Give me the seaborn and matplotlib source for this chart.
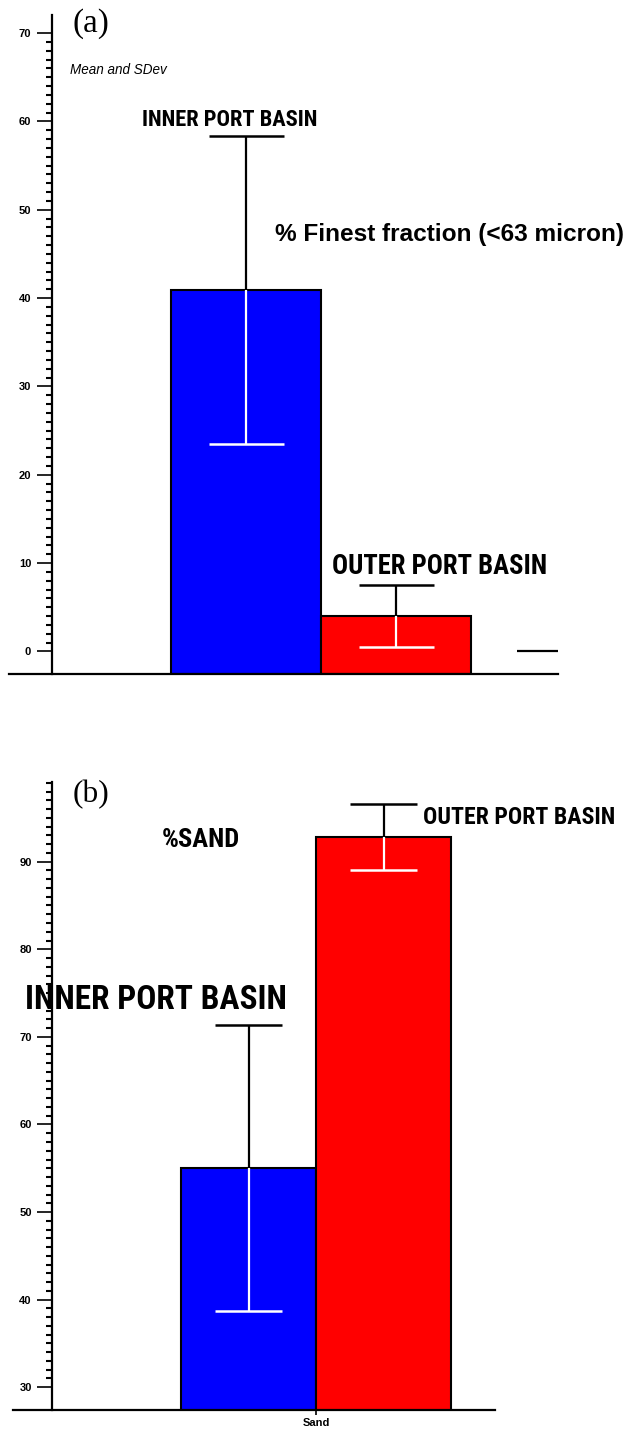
import os
import numpy as np
import pandas as pd
import matplotlib
matplotlib.use("Agg")
import matplotlib.pyplot as plt
from matplotlib import font_manager as fm
import seaborn as sns
from matplotlib.ticker import FixedLocator

sns.set_theme(style="white")
plt.rcParams['font.family'] = ['Liberation Sans', 'DejaVu Sans']
plt.rcParams['text.color'] = 'black'
plt.rcParams['xtick.color'] = 'black'
plt.rcParams['ytick.color'] = 'black'

# ---- data ----
basins = ["INNER PORT BASIN", "OUTER PORT BASIN"]
bar_colors = ["#0000ff", "#ff0000"]

# % finest fraction (<63 micron): mean and standard deviation per basin
fines_mean = [40.9, 4.05]
fines_sd = [17.45, 3.5]
fines_blank = 0.0  # empty slot drawn at the right end of panel (a)

# % sand: mean and standard deviation per basin
sand_mean = [55.0, 92.8]
sand_sd = [16.3, 3.8]
sand_category = ["Sand"]

fines_major = list(range(0, 71, 10))
fines_minor = list(range(0, 71, 1))
sand_major = list(range(30, 91, 10))
sand_minor = list(range(30, 100, 1))

W, H = 628, 1433
fig = plt.figure(figsize=(W / 100, H / 100), dpi=100)
renderer = fig.canvas.get_renderer()


def box(l, t, r, b):
    return [l / W, 1 - b / H, (r - l) / W, (b - t) / H]


def fxy(x, y):
    return x / W, 1 - y / H


def narrow_bold_font():
    """Pick a bold condensed sans face if one is installed."""
    prefs = ['liberation sans narrow', 'arial narrow', 'roboto condensed',
             'dejavu sans', 'open sans', 'noto sans', 'roboto']
    best, best_key = None, None
    for f in fm.fontManager.ttflist:
        base = os.path.basename(f.fname).lower()
        name = f.name.lower()
        is_narrow = ('narrow' in name or 'condensed' in name or 'narrow' in base
                     or 'condensed' in base
                     or f.stretch in ('condensed', 'semi-condensed', 'extra-condensed'))
        if not is_narrow or f.style != 'normal' or 'italic' in base or 'oblique' in base:
            continue
        w = f.weight if isinstance(f.weight, int) else fm.weight_dict.get(f.weight, 400)
        if w < 600 and 'bold' not in base:
            continue
        if 'extrabold' in base or 'black' in base or 'semibold' in base:
            continue
        rank = next((i for i, p in enumerate(prefs) if p in name or p.replace(' ', '') in base), len(prefs))
        key = (rank, abs(w - 700))
        if best_key is None or key < best_key:
            best, best_key = f, key
    if best is None:
        return fm.FontProperties(family=['Liberation Sans', 'DejaVu Sans'], weight='bold')
    return fm.FontProperties(fname=best.fname)


NARROW_FP = narrow_bold_font()
SERIF = ['Liberation Serif', 'DejaVu Serif']


def label(x, y, s, width, fp=None, **kw):
    """Place text with its left edge at x, centred on y, scaled to a given width."""
    if fp is not None:
        t = fig.text(*fxy(x, y), s, fontproperties=fp.copy(), va="center",
                     ha="left", color="black", **kw)
    else:
        t = fig.text(*fxy(x, y), s, va="center", ha="left", color="black", **kw)
    t.set_fontsize(12)
    bb = t.get_window_extent(renderer)
    t.set_fontsize(12 * width / bb.width)
    return t


def style_axis(ax, spine_x, major, minor):
    for s in ("top", "right"):
        ax.spines[s].set_visible(False)
    ax.spines["left"].set_position(("data", spine_x))
    for s in ("left", "bottom"):
        ax.spines[s].set_color("black")
        ax.spines[s].set_linewidth(1.6)
    ax.yaxis.set_major_locator(FixedLocator(major))
    ax.yaxis.set_minor_locator(FixedLocator([m for m in minor if m not in major]))
    ax.tick_params(axis="y", which="major", left=True, length=10.5, width=1.2,
                   color="black", pad=4.5, labelsize=8, labelcolor="black")
    ax.tick_params(axis="y", which="minor", left=True, length=4.3, width=1.5,
                   color="black")
    for lab in ax.get_yticklabels():
        lab.set_fontweight("bold")
    ax.set_xlabel("")
    ax.set_ylabel("")
    ax.grid(False)


def mean_sd_bars(ax, means, sds):
    # black whisker above the bar top, white whisker inside the bar
    for patch, m, s in zip(ax.patches, means, sds):
        cx = patch.get_x() + patch.get_width() / 2
        hw = patch.get_width() / 4
        ax.vlines(cx, m, m + s, color="black", lw=1.6, zorder=5)
        ax.hlines(m + s, cx - hw, cx + hw, color="black", lw=1.8, zorder=5)
        ax.vlines(cx, m - s, m, color="white", lw=1.6, zorder=5)
        ax.hlines(m - s, cx - hw, cx + hw, color="white", lw=1.8, zorder=5)


# ---- panel (a): finest fraction ----
ax_a = fig.add_axes(box(9, 15, 558, 674))
df_a = pd.DataFrame({"basin": basins, "value": fines_mean})
sns.barplot(data=df_a, x="basin", y="value", hue="basin", palette=bar_colors,
            width=1.0, saturation=1, edgecolor="black", linewidth=1.5,
            errorbar=None, legend=False, ax=ax_a)
ax_a.set_xlim(-1.58, 2.08)
ax_a.set_ylim(-2.55, 72.05)
# bars rise from the bottom of the frame up to their mean
y0 = ax_a.get_ylim()[0]
for patch, m in zip(ax_a.patches, fines_mean):
    patch.set_y(y0)
    patch.set_height(m - y0)
style_axis(ax_a, -1.293, fines_major, fines_minor)
ax_a.set_xticks([])
mean_sd_bars(ax_a, fines_mean, fines_sd)
ax_a.hlines(fines_blank, 1.807, 2.08, color="black", lw=1.6, zorder=5)

label(73, 24, "(a)", 37, family=SERIF)
label(70, 70, "Mean and SDev", 97, style="italic")
label(142, 120, "INNER PORT BASIN", 176, fp=NARROW_FP)
label(275, 235, "% Finest fraction (<63 micron)", 348, fontweight="bold")
label(332, 567, "OUTER PORT BASIN", 215, fp=NARROW_FP)

# ---- panel (b): sand ----
ax_b = fig.add_axes(box(13, 782, 495, 1410))
df_b = pd.DataFrame({"fraction": sand_category * len(basins), "basin": basins,
                     "value": sand_mean})
sns.barplot(data=df_b, x="fraction", y="value", hue="basin", palette=bar_colors,
            width=0.8, saturation=1, edgecolor="black", linewidth=1.5,
            errorbar=None, legend=False, ax=ax_b)
ax_b.set_xlim(-0.898, 0.530)
ax_b.set_ylim(27.4, 99.1)
style_axis(ax_b, -0.781, sand_major, sand_minor)
ax_b.tick_params(axis="x", bottom=True, length=3.6, width=1.2, color="black",
                 pad=2, labelsize=8, labelcolor="black")
for lab in ax_b.get_xticklabels():
    lab.set_fontweight("bold")
mean_sd_bars(ax_b, sand_mean, sand_sd)

label(73, 795, "(b)", 37, family=SERIF)
label(162, 840, "%SAND", 78, fp=NARROW_FP)
label(423, 817, "OUTER PORT BASIN", 192, fp=NARROW_FP)
label(25, 1000, "INNER PORT BASIN", 262, fp=NARROW_FP)

fig.savefig("out.png", dpi=100, facecolor="white")
